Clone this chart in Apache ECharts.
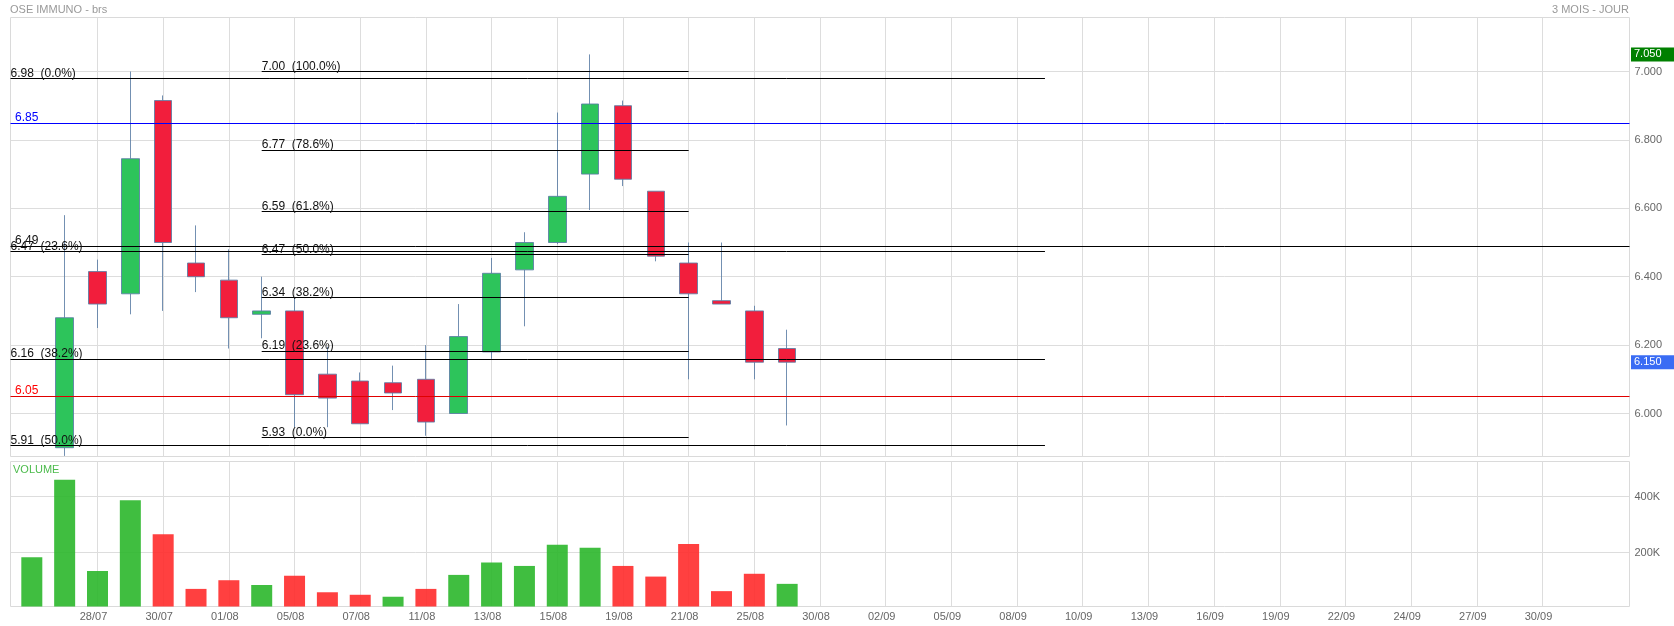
<!DOCTYPE html>
<html>
<head>
<meta charset="utf-8">
<script src="https://cdn.jsdelivr.net/npm/echarts@6/dist/echarts.min.js"></script>
<style>
html,body{margin:0;padding:0;background:#fff;}
#chart{width:1674px;height:626px;}
</style>
</head>
<body>
<div id="chart"></div>
<script>
// ---- data ----
const dates   = ['24/07','25/07','28/07','29/07','30/07','31/07','01/08','04/08','05/08','06/08','07/08','08/08',
                 '11/08','12/08','13/08','14/08','15/08','18/08','19/08','20/08','21/08','22/08','25/08','26/08'];
const opens   = [5.55, 5.90, 6.415, 6.35, 6.915, 6.44, 6.39, 6.29, 6.30, 6.115, 6.095, 6.09,
                 6.10, 6.00, 6.18, 6.42, 6.50, 6.70, 6.90, 6.65, 6.44, 6.33, 6.30, 6.19];
const closes  = [5.62, 6.28, 6.32, 6.745, 6.50, 6.40, 6.28, 6.30, 6.055, 6.045, 5.97, 6.06,
                 5.975, 6.225, 6.41, 6.50, 6.635, 6.905, 6.685, 6.46, 6.35, 6.32, 6.15, 6.15];
const lows    = [5.50, 5.876, 6.25, 6.29, 6.30, 6.355, 6.19, 6.22, 5.96, 5.96, 5.97, 6.01,
                 5.935, 6.00, 6.16, 6.255, 6.495, 6.595, 6.665, 6.445, 6.10, 6.32, 6.10, 5.965];
const highs   = [5.80, 6.58, 6.45, 7.00, 6.93, 6.55, 6.48, 6.40, 6.34, 6.195, 6.12, 6.14,
                 6.20, 6.32, 6.455, 6.53, 6.88, 7.05, 6.915, 6.65, 6.50, 6.50, 6.315, 6.245];
const volumes = [183000, 460000, 134000, 387000, 265000, 70000, 101000, 84000, 117000, 58000, 49000, 42000,
                 70000, 120000, 164000, 152000, 228000, 217000, 152000, 114000, 230000, 62000, 124000, 88000];

const tickLabels = ['28/07','30/07','01/08','05/08','07/08','11/08','13/08','15/08','19/08','21/08','25/08',
                    '30/08','02/09','05/09','08/09','10/09','13/09','16/09','19/09','22/09','24/09','27/09','30/09'];
const priceTicks  = [6.0, 6.2, 6.4, 6.6, 6.8, 7.0];
const volumeTicks = [200000, 400000];

// Fibonacci retracement A (drawn from the left edge)
const fibAValues = [6.980, 6.473, 6.160, 5.906];
const fibALabels = ['6.98  (0.0%)', '6.47  (23.6%)', '6.16  (38.2%)', '5.91  (50.0%)'];
const fibAEnd = 30.85;
// Fibonacci retracement B (04/08 -> 21/08)
const fibBValues = [7.000, 6.771, 6.591, 6.465, 6.339, 6.183, 5.930];
const fibBLabels = ['7.00  (100.0%)', '6.77  (78.6%)', '6.59  (61.8%)', '6.47  (50.0%)', '6.34  (38.2%)', '6.19  (23.6%)', '5.93  (0.0%)'];
const fibBStart = 7, fibBEnd = 20;
// horizontal levels
const levelValues = [6.85, 6.05, 6.49];
const levelLabels = ['6.85', '6.05', '6.49'];
const levelColors = ['#0000ff', '#e00000', '#000000'];
const levelTextColors = ['#0000ff', '#ff0000', '#111111'];

// ---- axis extents ----
const X_MIN = -0.649, X_MAX = 48.649;
const Y_MIN = 5.8743, Y_MAX = 7.1579;
const VOL_MIN = 7143, VOL_MAX = 525000;

const FONT = 'Liberation Sans, Arial, Helvetica, sans-serif';
const tickSlots = tickLabels.map((_, i) => 2 + 2 * i);

const candleData = dates.map((d, i) => [i, opens[i], closes[i], lows[i], highs[i]]);
const volData = volumes.map((v, i) => {
  const up = i === 0 ? closes[i] >= opens[i] : closes[i] >= closes[i - 1];
  return { value: [i, v], itemStyle: { color: up ? 'rgba(43,183,43,0.9)' : 'rgba(255,43,43,0.9)' } };
});

const fibLine = (x1, x2, y, text, dx) => [
  { coord: [x1, y], name: text, lineStyle: { color: '#000', width: 1, type: 'solid' },
    label: { show: true, position: 'insideStartTop', distance: [dx, -1], color: '#111', fontSize: 12, fontFamily: FONT, formatter: text } },
  { coord: [x2, y] }
];

const markData = [];
fibAValues.forEach((v, i) => markData.push(fibLine(X_MIN, fibAEnd, v, fibALabels[i], 0)));
fibBValues.forEach((v, i) => markData.push(fibLine(fibBStart, fibBEnd, v, fibBLabels[i], 0)));
levelValues.forEach((v, i) => markData.push({
  yAxis: v, name: levelLabels[i],
  lineStyle: { color: levelColors[i], width: 1, type: 'solid' },
  label: { show: true, position: 'insideStartTop', distance: [4.5, -0.5], color: levelTextColors[i], fontSize: 12, fontFamily: FONT, formatter: levelLabels[i] }
}));

const lastClose = closes[closes.length - 1];
const maxHigh = Math.max(...highs);
const tagData = [
  { yAxis: maxHigh, lineStyle: { color: 'rgba(0,0,0,0)', width: 1 },
    label: { show: true, position: 'end', distance: 1.5, formatter: maxHigh.toFixed(3), color: '#fff', backgroundColor: '#008000',
             padding: [2, 13, 1, 3], fontSize: 11, fontFamily: FONT } },
  { yAxis: lastClose, lineStyle: { color: 'rgba(0,0,0,0)', width: 1 },
    label: { show: true, position: 'end', distance: 1.5, formatter: lastClose.toFixed(3), color: '#fff', backgroundColor: '#3a6cf4',
             padding: [2, 13, 1, 3], fontSize: 11, fontFamily: FONT } }
];

const gridLine = { show: true, lineStyle: { color: '#dddddd', width: 1 } };

const option = {
  animation: false,
  backgroundColor: '#ffffff',
  textStyle: { fontFamily: FONT },
  title: [
    { text: 'OSE IMMUNO - brs', left: 10, top: 4, padding: 0, textStyle: { fontSize: 11, color: '#999', fontWeight: 'normal', fontFamily: FONT } },
    { text: '3 MOIS - JOUR', right: 45, top: 4, padding: 0, textStyle: { fontSize: 11, color: '#999', fontWeight: 'normal', fontFamily: FONT } },
    { text: 'VOLUME', left: 13, top: 464, padding: 0, textStyle: { fontSize: 11, color: '#4cbb4c', fontWeight: 'normal', fontFamily: FONT } }
  ],
  grid: [
    { left: 10.5, right: 44.5, top: 17.5, height: 439, show: true, borderColor: '#dadada', borderWidth: 1, backgroundColor: 'transparent', outerBoundsMode: 'none' },
    { left: 10.5, right: 44.5, top: 461.5, height: 145, show: true, borderColor: '#dadada', borderWidth: 1, backgroundColor: 'transparent', outerBoundsMode: 'none' }
  ],
  xAxis: [
    { type: 'value', gridIndex: 0, min: X_MIN, max: X_MAX,
      axisLine: { show: false }, axisTick: { show: false, customValues: tickSlots },
      axisLabel: { show: false, customValues: tickSlots }, splitLine: gridLine },
    { type: 'value', gridIndex: 1, min: X_MIN, max: X_MAX,
      axisLine: { show: false }, axisTick: { show: false, customValues: tickSlots },
      axisLabel: { show: true, customValues: tickSlots, color: '#666', fontSize: 11, margin: 5, padding: [0, 8, 0, 0],
                   formatter: v => tickLabels[Math.round((v - 2) / 2)] },
      splitLine: gridLine }
  ],
  yAxis: [
    { type: 'value', gridIndex: 0, position: 'right', min: Y_MIN, max: Y_MAX, scale: true,
      axisLine: { show: false }, axisTick: { show: false, customValues: priceTicks },
      axisLabel: { customValues: priceTicks, color: '#666', fontSize: 11, margin: 5, padding: [0, 0, 4, 0], formatter: v => v.toFixed(3) },
      splitLine: gridLine },
    { type: 'value', gridIndex: 1, position: 'right', min: VOL_MIN, max: VOL_MAX, scale: true,
      axisLine: { show: false }, axisTick: { show: false, customValues: volumeTicks },
      axisLabel: { customValues: volumeTicks, color: '#666', fontSize: 11, margin: 5, padding: [0, 0, 4, 0], formatter: v => Math.round(v / 1000) + 'K' },
      splitLine: gridLine }
  ],
  series: [
    { type: 'candlestick', xAxisIndex: 0, yAxisIndex: 0, data: candleData, barWidth: 18, clip: true, z: 2,
      itemStyle: { color: '#2dc45b', color0: '#f21e3c', borderColor: 'rgba(90,125,165,0.85)', borderColor0: 'rgba(90,125,165,0.85)', borderWidth: 1 } },
    { type: 'line', xAxisIndex: 0, yAxisIndex: 0, data: [], z: 5, silent: true,
      markLine: { silent: true, symbol: ['none', 'none'], animation: false, data: markData } },
    { type: 'line', xAxisIndex: 0, yAxisIndex: 0, data: [], z: 6, silent: true, clip: false,
      markLine: { silent: true, symbol: ['none', 'none'], animation: false, data: tagData } },
    { type: 'bar', xAxisIndex: 1, yAxisIndex: 1, data: volData, barWidth: 21, clip: true }
  ]
};

const chart = echarts.init(document.getElementById('chart'), null, { renderer: 'canvas' });
chart.setOption(option);
</script>
</body>
</html>
